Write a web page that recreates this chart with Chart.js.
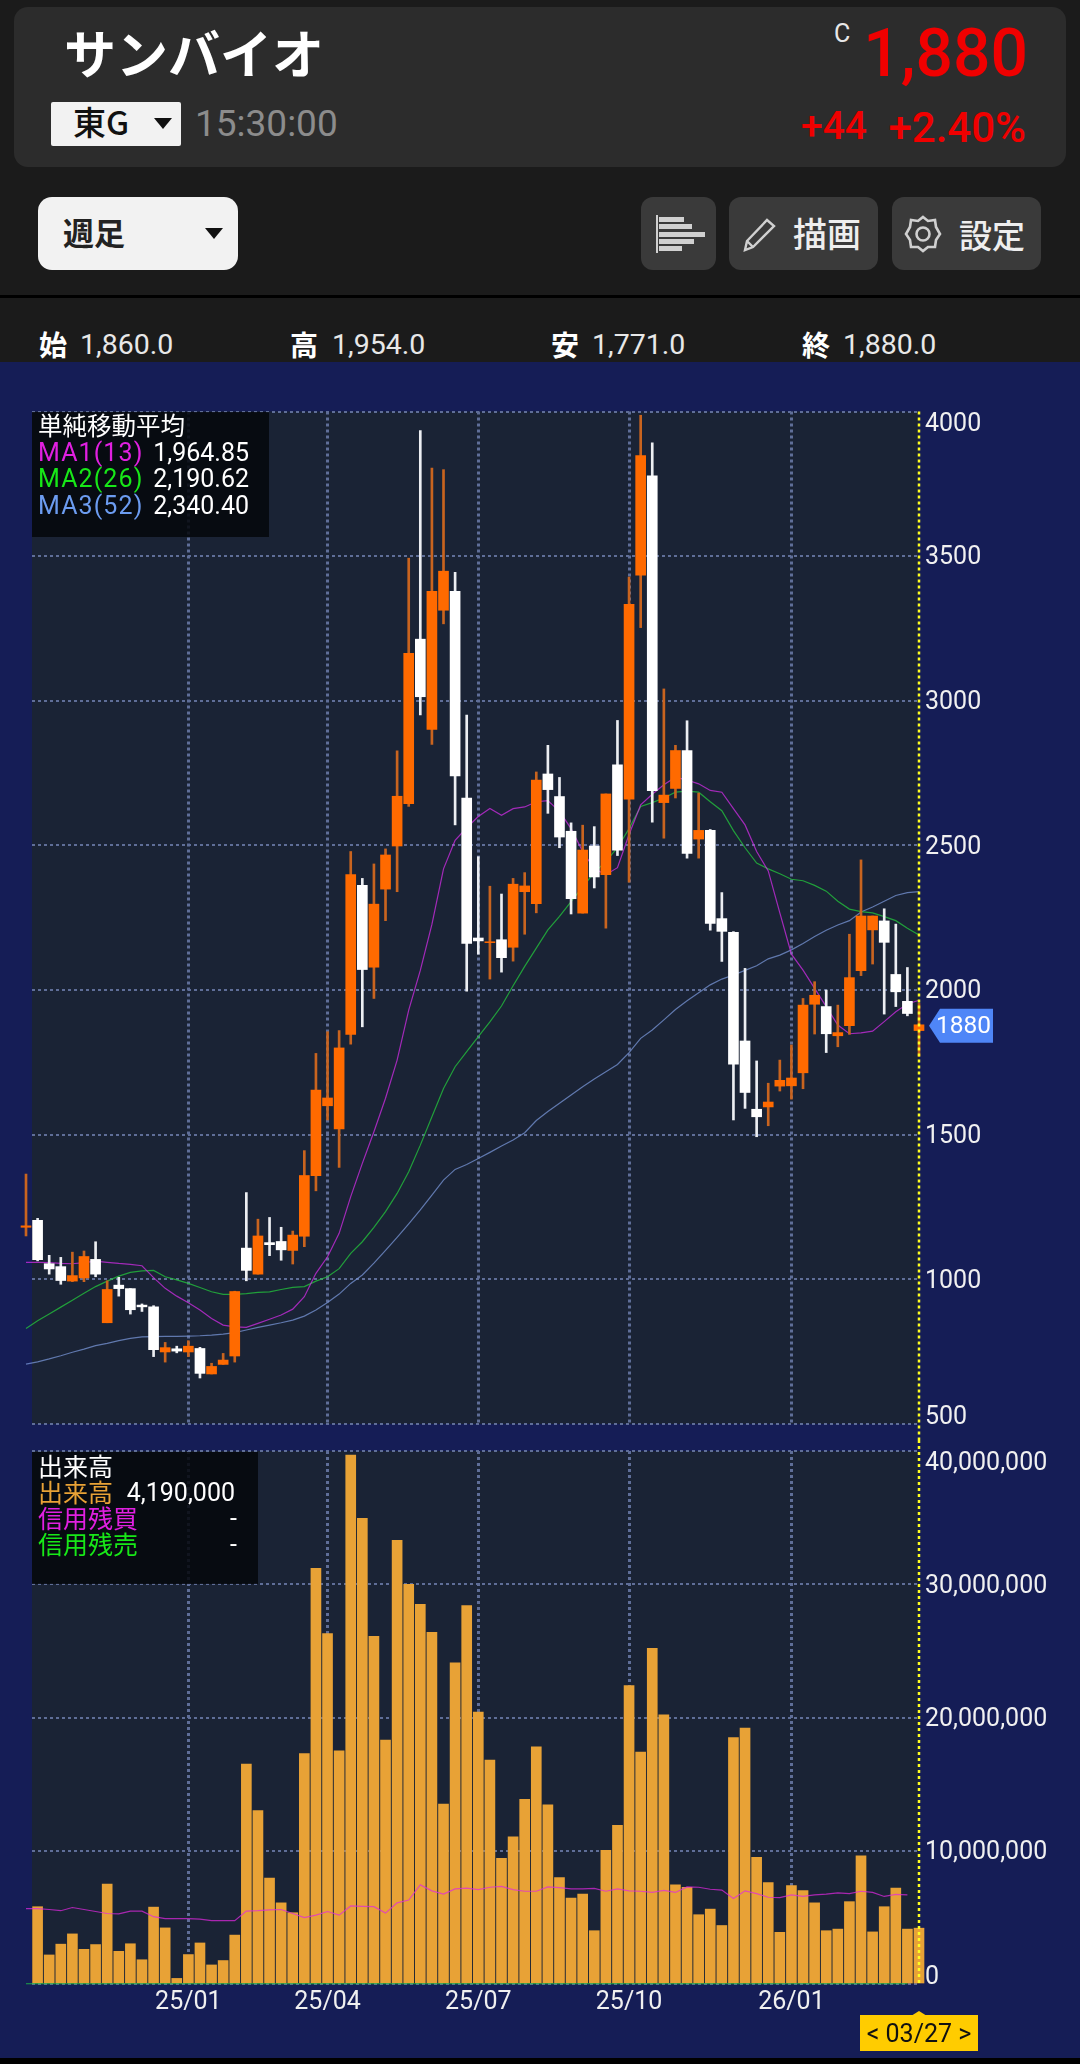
<!DOCTYPE html>
<html lang="ja">
<head>
<meta charset="utf-8">
<title>サンバイオ 週足</title>
<style>
html,body{margin:0;padding:0;background:#000;}
#page{position:relative;width:1080px;height:2064px;overflow:hidden;background:#1b1b1b;font-family:Roboto,"Noto Sans CJK JP",sans-serif;color:#fff;}
#page div,#page span{position:absolute;white-space:nowrap;line-height:1;}
.cjk{font-family:"Noto Sans CJK JP",sans-serif;}
.caret{width:0;height:0;border-left:9px solid transparent;border-right:9px solid transparent;border-top:11px solid #111;}
.btn{background:#3a3a3a;border-radius:12px;top:197px;height:73px;}
svg{position:absolute;}
canvas{position:absolute;left:0;display:block;}
.box{background:rgba(5,7,12,.86);}
</style>
</head>
<body>
<div id="page">
  <div style="left:14px;top:7px;width:1052px;height:160px;border-radius:14px;background:#2c2c2c"></div>
  <div class="cjk" style="left:64px;top:26px;font-size:52px;font-weight:700">サンバイオ</div>
  <div style="left:834px;top:21px;font-size:25px;color:#e8e8e8">C</div>
  <div style="right:52px;top:21px;font-size:66px;font-weight:500;color:#f00000">1,880</div>
  <div style="left:51px;top:102px;width:130px;height:44px;background:#f2f2f2;border-radius:2px"></div>
  <div class="cjk" style="left:73px;top:105px;font-size:33px;color:#111;font-weight:500">東G</div>
  <div class="caret" style="left:154px;top:118px"></div>
  <div style="left:195px;top:105px;font-size:37px;color:#8c8c8c">15:30:00</div>
  <div style="right:213px;top:107px;font-size:39px;font-weight:500;color:#f00000">+44</div>
  <div style="right:54px;top:107px;font-size:42px;font-weight:500;color:#f00000">+2.40%</div>

  <div style="left:38px;top:197px;width:200px;height:73px;border-radius:14px;background:#f2f2f2"></div>
  <div class="cjk" style="left:63px;top:216px;font-size:31px;color:#222;font-weight:700">週足</div>
  <div class="caret" style="left:205px;top:228px"></div>
  <div class="btn" style="left:641px;width:75px"></div>
  <svg style="left:655px;top:215px" width="50" height="38" viewBox="0 0 50 38" fill="#d0d0d0"><rect x="1" y="0" width="2" height="38"/><rect x="4" y="2" width="25" height="5"/><rect x="4" y="9" width="33" height="5"/><rect x="4" y="17" width="46" height="5"/><rect x="4" y="24" width="35" height="5"/><rect x="4" y="31" width="23" height="5"/></svg>
  <div class="btn" style="left:729px;width:149px"></div>
  <svg style="left:741px;top:217px" width="36" height="36" viewBox="0 0 36 36" fill="none" stroke="#d0d0d0" stroke-width="2.4"><path d="M4 33 L6 24 L26 3 L33 9 L12 30 Z M6 24 L12 30"/></svg>
  <div class="cjk" style="left:793px;top:216px;font-size:34px;color:#eee;font-weight:500">描画</div>
  <div class="btn" style="left:892px;width:149px"></div>
  <svg style="left:904px;top:215px" width="38" height="38" viewBox="0 0 38 38" fill="none" stroke="#d0d0d0" stroke-width="2.6"><path d="M19 2 L24 6 L31 5 L32 12 L36 19 L32 25 L31 32 L24 32 L19 36 L14 32 L7 32 L6 25 L2 19 L6 12 L7 5 L14 6 Z"/><circle cx="19" cy="19" r="6.5"/></svg>
  <div class="cjk" style="left:959px;top:218px;font-size:33px;color:#eee;font-weight:500">設定</div>
  <div style="left:0;top:295px;width:1080px;height:3px;background:#000"></div>

  <div class="cjk" style="left:39px;top:330px;font-size:28px;font-weight:700">始</div>
  <div style="left:80px;top:331px;font-size:28.5px;color:#e8e8e8">1,860.0</div>
  <div class="cjk" style="left:290px;top:330px;font-size:28px;font-weight:700">高</div>
  <div style="left:332px;top:331px;font-size:28.5px;color:#e8e8e8">1,954.0</div>
  <div class="cjk" style="left:551px;top:330px;font-size:28px;font-weight:700">安</div>
  <div style="left:592px;top:331px;font-size:28.5px;color:#e8e8e8">1,771.0</div>
  <div class="cjk" style="left:802px;top:330px;font-size:28px;font-weight:700">終</div>
  <div style="left:843px;top:331px;font-size:28.5px;color:#e8e8e8">1,880.0</div>

  <div style="left:0;top:362px;width:1080px;height:1696px;background:#151d56"></div>
  <div style="left:0;top:2058px;width:1080px;height:6px;background:#000"></div>

  <canvas id="priceChart" width="1080" height="1078" style="top:362px"></canvas>
  <canvas id="volumeChart" width="1080" height="618" style="top:1440px"></canvas>

  <div class="box" style="left:32px;top:412px;width:237px;height:125px"></div>
  <div class="cjk" style="left:38px;top:413px;font-size:24.5px">単純移動平均</div>
  <div style="left:38px;top:440px;font-size:25px;letter-spacing:1.1px;color:#e020e0">MA1(13)</div>
  <div style="right:831px;top:440px;font-size:25px">1,964.85</div>
  <div style="left:38px;top:466px;font-size:25px;letter-spacing:1.1px;color:#18e818">MA2(26)</div>
  <div style="right:831px;top:466px;font-size:25px">2,190.62</div>
  <div style="left:38px;top:493px;font-size:25px;letter-spacing:1.1px;color:#6c9cf0">MA3(52)</div>
  <div style="right:831px;top:493px;font-size:25px">2,340.40</div>

  <div class="box" style="left:32px;top:1452px;width:226px;height:132px"></div>
  <div class="cjk" style="left:38px;top:1453px;font-size:25px">出来高</div>
  <div class="cjk" style="left:38px;top:1479px;font-size:25px;color:#e8a236">出来高</div>
  <div style="right:845px;top:1480px;font-size:25px">4,190,000</div>
  <div class="cjk" style="left:38px;top:1505px;font-size:25px;color:#e020e0">信用残買</div>
  <div style="right:843px;top:1506px;font-size:25px">-</div>
  <div class="cjk" style="left:38px;top:1531px;font-size:25px;color:#18e818">信用残売</div>
  <div style="right:843px;top:1532px;font-size:25px">-</div>

  <div style="left:860px;top:2015px;width:118px;height:36px;background:#ffcc00"></div>
  <div style="left:911px;top:2011px;width:0;height:0;border-left:8px solid transparent;border-right:8px solid transparent;border-bottom:5px solid #ffcc00"></div>
  <div style="left:860px;top:2021px;width:118px;text-align:center;font-size:25px;color:#111">&lt; 03/27 &gt;</div>
</div>

<script src="https://cdn.jsdelivr.net/npm/chart.js@4"></script>
<script>
// 週足 ローソク足 (古い順) 最後が 03/27
const opens = [1180,1204,1054,1044,994,1005,1069,850,980,968,911,905,749,760,749,761,673,706,735,1108,
  1018,1127,1131,1100,1149,1358,1600,1520,1847,2362,2079,2349,2498,2644,3213,2901,3313,3378,2664,2180,
  2164,2174,2148,2340,2299,2747,2669,2549,2266,2498,2399,2779,2660,3434,3778,2648,2697,2828,2522,2552,
  2247,2200,1824,1588,1596,1668,1669,1714,1951,1943,1842,1877,2067,2208,2239,2054,1961,1860];
const highs = [1364,1211,1083,1076,1094,1098,1130,995,1007,968,915,909,782,769,788,765,710,744,959,1300,
  1208,1214,1180,1167,1445,1781,1856,1860,2479,2386,2436,2488,2827,3493,3934,3804,3799,3444,2951,2461,
  2359,2332,2386,2406,2754,2846,2735,2578,2570,2565,2678,2932,3428,3987,3892,3041,2846,2931,2681,2555,
  2337,2202,2075,1755,1678,1758,1810,1971,2029,2000,1948,2193,2450,2256,2281,2228,2078,1954];
const lows = [1150,1064,1018,983,992,992,1009,850,942,880,889,733,714,746,733,659,673,706,714,995,
  1018,1082,1066,1053,1113,1306,1551,1387,1813,1873,1971,2240,2340,2635,2951,2849,3266,2571,1996,2124,
  2038,2062,2100,2193,2267,2611,2492,2263,2266,2353,2214,2465,2373,3253,2580,2525,2664,2456,2456,2207,
  2099,1551,1591,1493,1531,1651,1623,1659,1848,1784,1804,1847,2050,2090,1917,1943,1911,1771];
const closes = [1185,1068,1036,996,1013,1079,1018,965,968,895,905,757,764,752,769,675,699,721,958,1031,
  1150,1120,1102,1153,1359,1654,1627,1800,2399,2071,2297,2467,2670,3164,3014,3378,3448,2740,2161,2170,
  2167,2112,2366,2360,2726,2693,2529,2316,2484,2391,2678,2484,3333,3848,2689,2674,2828,2472,2552,2230,
  2203,1744,1646,1562,1613,1688,1696,1948,1982,1849,1853,2043,2256,2256,2165,1994,1919,1880];

// 移動平均 先頭の1点は最初のローソク足より1本前
const ma1 = [1044,1059,1059,1058,1055,1054,1058,1063,1059,1055,1052,1047,1006,969,942,919,894,865,842,836,
  834,848,862,877,897,940,1021,1078,1159,1286,1401,1510,1626,1758,1931,2068,2227,2419,2518,2561,
  2600,2628,2604,2627,2633,2651,2655,2618,2558,2479,2419,2399,2423,2538,2640,2677,2710,2736,2726,2713,
  2690,2684,2627,2571,2479,2412,2267,2124,2069,2006,1943,1879,1849,1852,1858,1891,1925,1952,1965];
const ma2 = [802,830,857,880,904,928,952,975,994,1011,1024,1029,1031,1009,998,986,972,957,948,948,
  951,955,957,965,972,975,994,1009,1037,1090,1130,1180,1234,1297,1372,1464,1562,1660,1735,1787,
  1839,1890,1945,2015,2082,2145,2208,2255,2306,2357,2406,2445,2492,2558,2635,2648,2664,2684,2688,2684,
  2651,2620,2551,2492,2439,2419,2402,2383,2378,2362,2342,2307,2280,2271,2267,2254,2240,2214,2190];
const ma3 = [698,707,715,725,736,748,759,771,779,788,796,801,802,803,803,804,805,807,811,816,
  825,834,842,850,859,873,894,920,949,986,1015,1056,1100,1145,1192,1240,1291,1343,1380,1397,
  1418,1439,1461,1482,1507,1549,1580,1609,1637,1666,1693,1718,1743,1784,1833,1862,1897,1933,1963,1991,
  2018,2038,2052,2068,2084,2108,2121,2139,2161,2185,2207,2225,2240,2270,2287,2307,2327,2337,2340];

// 出来高 (百万株) 先頭は画面外
const volumes = [null,5.80,2.18,2.99,3.76,2.60,2.96,7.50,2.45,3.02,1.82,5.77,4.21,0.42,2.21,3.08,1.43,1.76,3.67,16.5,
  13.02,7.95,6.09,5.35,17.3,31.2,26.3,17.5,39.7,34.95,26.1,18.3,33.3,30.0,28.5,26.4,13.5,24.1,28.4,20.4,
  16.8,9.44,11.05,13.86,17.8,13.44,7.98,6.45,6.75,4.0,10.04,11.9,22.4,17.4,25.2,20.2,7.44,7.26,5.2,5.62,
  4.39,18.5,19.2,9.5,7.62,3.88,7.38,7.02,6.09,4.0,4.12,6.18,9.62,3.91,5.8,7.2,4.12,4.19];
// 信用残買 (百万株) 先頭の1点は1本前 最終週はまだ無い
const marginBuy = [5.77,5.65,5.65,5.59,5.50,5.74,5.59,5.44,5.29,5.26,5.47,5.47,5.05,4.90,4.90,4.90,4.87,4.75,4.75,4.75,
  5.47,5.50,5.56,5.59,5.29,4.99,5.17,5.44,5.17,5.86,5.83,5.80,5.32,6.09,6.30,7.44,6.99,6.75,7.14,7.20,
  7.08,7.26,7.32,7.08,6.96,6.96,7.29,7.23,7.14,7.14,7.17,6.96,7.14,6.99,6.96,6.87,7.02,6.87,7.29,7.26,
  7.11,7.05,6.42,6.99,6.78,6.51,6.48,6.69,6.57,6.69,6.75,6.84,6.78,6.96,6.87,6.57,6.72,6.69];
// 信用残売 は底に張り付いている
const marginSell = marginBuy.map(() => 0.02);

const monthIndex = [14,26,39,52,66];
const monthLabels = ['25/01','25/04','25/07','25/10','26/01'];
const lastPrice = 1880;

const PANEL = '#1a2335', GRID = '#5f6e98', ORANGE = '#ff6a00', WHITE = '#ffffff';
const LAST = opens.length - 1;
const X_MIN = 0.517; // 一番左の足はパネルの外にはみ出す

const isUp = i => closes[i] >= opens[i];
const toLine = arr => arr.map((v, k) => ({ x: k - 1, y: v }));

function lineSet(data, color, order) {
    return { type: 'line', data: data, borderColor: color, borderWidth: 1.2, pointRadius: 0, tension: 0, clip: false, order: order };
}

function xScale(showLabels, lineWidth) {
    return {
        type: 'linear',
        offset: false,
        min: X_MIN,
        max: LAST,
        afterBuildTicks: s => { s.ticks = monthIndex.map(v => ({ value: v })); },
        afterFit: s => { s.height = showLabels ? 74 : 16; },
        border: { display: false, dash: [3, 3] },
        grid: { color: GRID, lineWidth: lineWidth, drawTicks: false, offset: false },
        ticks: {
            display: showLabels,
            autoSkip: false,
            maxRotation: 0,
            padding: 4,
            color: '#f0f0f0',
            font: { family: 'Roboto', size: 25 },
            callback: v => monthLabels[monthIndex.indexOf(v)]
        }
    };
}

function yScale(min, max, step, fmt) {
    return {
        position: 'right',
        min: min,
        max: max,
        afterFit: s => { s.width = 0; },
        border: { display: false, dash: [3, 3] },
        grid: { color: GRID, lineWidth: 2, drawTicks: false },
        ticks: { display: false, stepSize: step, callback: fmt }
    };
}

// パネル背景
const panelBg = {
    id: 'panelBg',
    beforeDraw(chart) {
        const a = chart.chartArea;
        chart.ctx.fillStyle = PANEL;
        chart.ctx.fillRect(a.left, a.top, a.width, a.height);
    }
};

// 右側の目盛り文字 上端と下端はパネル内に寄せる
const sideLabels = {
    id: 'sideLabels',
    afterDraw(chart) {
        const ctx = chart.ctx, y = chart.scales.y, x = chart.scales.x;
        ctx.save();
        ctx.font = '25px Roboto';
        ctx.fillStyle = '#f0f0f0';
        ctx.textAlign = 'left';
        ctx.textBaseline = 'middle';
        y.ticks.forEach(t => {
            let py = y.getPixelForValue(t.value);
            if (t.value === y.max) py += 11;
            if (t.value === y.min) py -= 8;
            ctx.fillText(t.label, x.right + 6, py + 2);
        });
        ctx.restore();
    }
};

// 最新足の黄色い点線
const cursorLine = {
    id: 'cursorLine',
    afterDatasetsDraw(chart) {
        const ctx = chart.ctx, px = chart.scales.x.getPixelForValue(LAST);
        const top = chart.canvas.id === 'priceChart' ? chart.chartArea.top : 0;
        const bottom = chart.canvas.id === 'priceChart' ? chart.height : chart.chartArea.bottom;
        ctx.save();
        ctx.strokeStyle = '#ffff20';
        ctx.lineWidth = 2.5;
        ctx.setLineDash([3, 3]);
        ctx.beginPath();
        ctx.moveTo(px, top);
        ctx.lineTo(px, bottom);
        ctx.stroke();
        ctx.restore();
    }
};

// 現在値タグ
const priceTag = {
    id: 'priceTag',
    afterDraw(chart) {
        const ctx = chart.ctx, py = chart.scales.y.getPixelForValue(lastPrice) + 1, left = chart.scales.x.right + 11;
        ctx.save();
        ctx.fillStyle = '#4f86f7';
        ctx.beginPath();
        ctx.moveTo(left - 1, py);
        ctx.lineTo(left + 10, py - 17);
        ctx.lineTo(left + 63, py - 17);
        ctx.lineTo(left + 63, py + 17);
        ctx.lineTo(left + 10, py + 17);
        ctx.closePath();
        ctx.fill();
        ctx.font = '24.5px Roboto';
        ctx.fillStyle = '#ffffff';
        ctx.textAlign = 'left';
        ctx.textBaseline = 'middle';
        ctx.fillText(String(lastPrice), left + 6, py + 1);
        ctx.restore();
    }
};

new Chart(document.getElementById('priceChart'), {
    type: 'bar',
    data: {
        datasets: [
            lineSet(toLine(ma1), 'rgba(215,45,235,0.72)', 4),
            lineSet(toLine(ma2), 'rgba(35,190,60,0.8)', 4),
            lineSet(toLine(ma3), 'rgba(120,150,215,0.75)', 4),
            {
                data: opens.map((_, i) => ({ x: i, y: [lows[i], highs[i]] })),
                backgroundColor: opens.map((_, i) => isUp(i) ? '#c9641f' : '#eceef2'),
                barThickness: 2, grouped: false, clip: false, order: 2
            },
            {
                data: opens.map((o, i) => ({ x: i, y: [Math.min(o, closes[i]), Math.max(o, closes[i])] })),
                backgroundColor: opens.map((_, i) => isUp(i) ? ORANGE : WHITE),
                barThickness: 10, grouped: false, clip: false, order: 1
            }
        ]
    },
    options: {
        responsive: false,
        animation: false,
        layout: { padding: { left: 32, right: 161, top: 49.5, bottom: 0 } },
        plugins: { legend: { display: false }, tooltip: { enabled: false } },
        scales: {
            x: xScale(false, 3),
            y: yScale(500, 4000, 500, v => String(v))
        }
    },
    plugins: [panelBg, cursorLine, sideLabels, priceTag]
});

new Chart(document.getElementById('volumeChart'), {
    type: 'bar',
    data: {
        datasets: [
            {
                data: volumes.map((v, i) => ({ x: i, y: v })),
                backgroundColor: '#e8a236',
                barThickness: 10, clip: false, order: 2
            },
            lineSet(marginBuy.map((v, k) => ({ x: k - 1, y: v })), 'rgba(225,40,225,0.72)', 1),
            lineSet(marginSell.map((v, k) => ({ x: k - 1, y: v })), 'rgba(30,190,70,0.85)', 1)
        ]
    },
    options: {
        responsive: false,
        animation: false,
        layout: { padding: { left: 32, right: 161, top: 11, bottom: 0 } },
        plugins: { legend: { display: false }, tooltip: { enabled: false } },
        scales: {
            x: xScale(true, 3),
            y: yScale(0, 40, 10, v => v === 0 ? '0' : (v * 1000000).toLocaleString('en-US'))
        }
    },
    plugins: [panelBg, cursorLine, sideLabels]
});
</script>
</body>
</html>
